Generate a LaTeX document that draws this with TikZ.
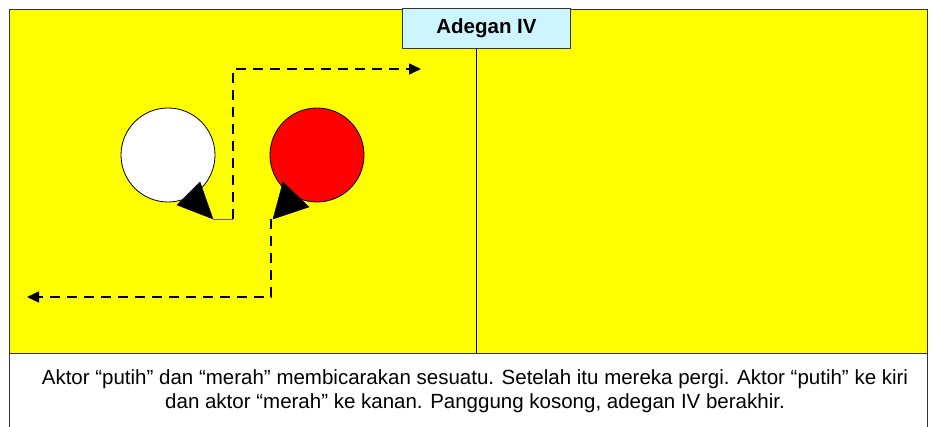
\documentclass[tikz,border=0pt]{standalone}
\usepackage{fontspec}
\setmainfont{Liberation Sans}
\usetikzlibrary{arrows.meta}
\definecolor{stage}{RGB}{255,255,0}
\definecolor{titlebg}{RGB}{204,245,255}
\begin{document}
\begin{tikzpicture}[x=1pt,y=-1pt,
  border/.style={draw=black!80,line width=1pt},
  actor/.style={circle,draw=black,line width=0.8pt,minimum size=94pt,inner sep=0pt},
  tri/.style={fill=black,draw=black},
  path/.style={dash pattern=on 10pt off 7pt,line width=1.6pt,-{Triangle[length=12pt,width=11pt]}}]
\useasboundingbox (0,0) rectangle (933,427);
\fill[white] (0,0) rectangle (933,427);
% stage
\fill[stage] (9,10) rectangle (927,353);
\draw[border] (9,10) rectangle (927,353);
\draw[border] (9,353) -- (9,427);
\draw[border] (927,353) -- (927,427);
\draw[line width=1pt] (476,48) -- (476,353);
% title
\node[draw=black!80,line width=1pt,fill=titlebg,minimum width=168pt,minimum height=40pt,anchor=north west,inner sep=0pt,font=\bfseries\fontsize{20.5}{24}\selectfont] (title) at (402,8) {Adegan IV};
% actors
\node[actor,fill=white] (putih) at (168,155) {};
\node[actor,fill=red] (merah) at (317,155) {};
% triangles
\fill[tri] (177,205) -- (200,182) -- (213,219) -- cycle;
\fill[tri] (273,219) -- (283,182) -- (309,207) -- cycle;
\coordinate (p0) at (213,219);
\coordinate (p1) at (233,219);
\coordinate (p2) at (233,69);
\coordinate (p3) at (421,69);
\coordinate (m0) at (271,219);
\coordinate (m1) at (271,297);
\coordinate (m2) at (27,297);
\draw[line width=0.8pt,black!60] (p0) -- (p1);
\draw[path] (p1) -- (p2) -- (p3);
\draw[path] (m0) -- (m1) -- (m2);
% caption
\node[align=center,font=\fontsize{20.5}{23.5}\selectfont,inner sep=0pt] (cap) at (475,391) {Aktor “putih” dan “merah” membicarakan sesuatu. Setelah itu mereka pergi. Aktor “putih” ke kiri\\dan aktor “merah” ke kanan. Panggung kosong, adegan IV berakhir.};
\end{tikzpicture}
\end{document}
